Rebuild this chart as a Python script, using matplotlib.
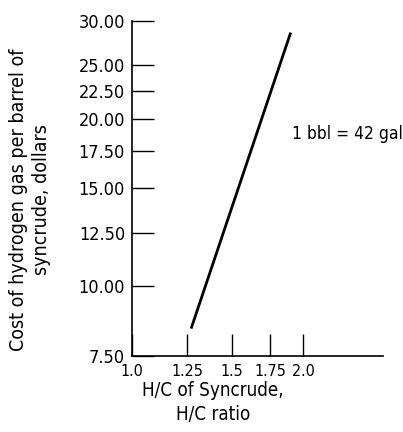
import matplotlib
matplotlib.use("Agg")
import matplotlib.pyplot as plt
from matplotlib import font_manager
from matplotlib.ticker import FixedLocator, FixedFormatter, NullLocator

# Data
hc_ratio = [1.27, 1.90]
cost_dollars = [8.4, 28.6]

x_ticks = [1.0, 1.25, 1.5, 1.75, 2.0]
x_ticklabels = ["1.0", "1.25", "1.5", "1.75", "2.0"]
y_ticks = [7.5, 10.0, 12.5, 15.0, 17.5, 20.0, 22.5, 25.0, 30.0]
y_ticklabels = ["7.50", "10.00", "12.50", "15.00", "17.50", "20.00", "22.50", "25.00", "30.00"]

# pick a narrow font if one is installed
narrow_path = None
for f in font_manager.fontManager.ttflist:
    nm = f.name.lower()
    fn = f.fname.lower()
    if ("narrow" in nm or "condensed" in nm or "condensed" in fn or "narrow" in fn) \
            and "bold" not in fn and "oblique" not in fn and "italic" not in fn:
        if narrow_path is None or "liberation" in fn or "dejavusanscondensed.ttf" in fn:
            narrow_path = f.fname

if narrow_path:
    FP = font_manager.FontProperties(fname=narrow_path)
    K = 1.0
else:
    FP = font_manager.FontProperties(family=["Liberation Sans", "DejaVu Sans"])
    K = 0.9

def fp(size):
    p = FP.copy()
    p.set_size(size * K)
    return p

W, H = 403, 432
fig = plt.figure(figsize=(W / 100, H / 100), dpi=100)
ax = fig.add_axes([132 / W, 76 / H, (383 - 132) / W, (356 - 21) / H])

ax.plot(hc_ratio, cost_dollars, color="black", lw=2.0, solid_capstyle="butt")

ax.set_xscale("log")
ax.set_yscale("log")
ax.set_xlim(1.0, 2.76)
ax.set_ylim(7.5, 30.0)

ax.xaxis.set_major_locator(FixedLocator(x_ticks))
ax.xaxis.set_major_formatter(FixedFormatter(x_ticklabels))
ax.xaxis.set_minor_locator(NullLocator())
ax.yaxis.set_major_locator(FixedLocator(y_ticks))
ax.yaxis.set_major_formatter(FixedFormatter(y_ticklabels))
ax.yaxis.set_minor_locator(NullLocator())

for s in ["top", "right"]:
    ax.spines[s].set_visible(False)
for s in ["left", "bottom"]:
    ax.spines[s].set_linewidth(1.2)

ax.tick_params(axis="both", direction="in", length=16, width=1.0)
ax.tick_params(axis="x", pad=6)
ax.tick_params(axis="y", pad=5)
for lab in ax.get_xticklabels():
    lab.set_fontproperties(fp(11.5))
for lab in ax.get_yticklabels():
    lab.set_fontproperties(fp(13))

ax.text(1.91, 18.8, "1 bbl = 42 gal", ha="left", va="center", fontproperties=fp(12.5))

fig.text(213 / W, 1 - 381 / H, "H/C of Syncrude,\nH/C ratio", ha="center", va="top",
         fontproperties=fp(13.5), linespacing=1.3, multialignment="center")
fig.text(30 / W, 1 - 200 / H, "Cost of hydrogen gas per barrel of\nsyncrude, dollars",
         rotation=90, ha="center", va="center", fontproperties=fp(14), linespacing=1.3,
         multialignment="center")

fig.savefig("out.png", dpi=100)
